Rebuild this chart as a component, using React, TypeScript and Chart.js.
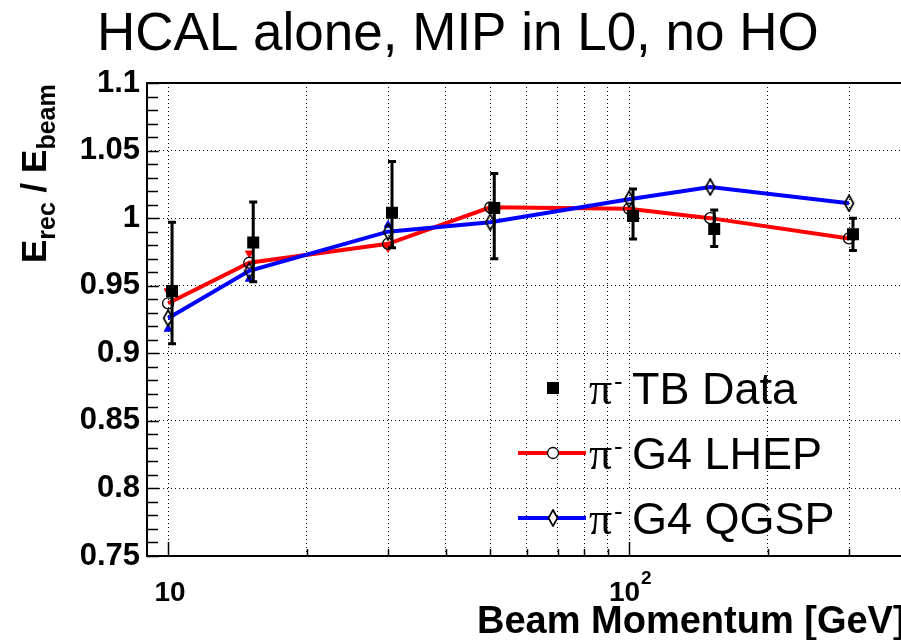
import React, { useEffect, useRef } from "react";
import { Chart, registerables } from "chart.js";

Chart.register(...registerables);

// ---------- data ----------
const simEnergies = [10, 15, 30, 50, 100, 150, 300];
const dataEnergies = [10.2, 15.3, 30.6, 51, 102, 153, 306];
const tbData = [0.946, 0.982, 1.004, 1.0075, 1.0016, 0.992, 0.988];
const tbErrUp = [0.051, 0.03, 0.038, 0.0255, 0.02, 0.014, 0.012];
const tbErrDown = [0.039, 0.029, 0.026, 0.0375, 0.017, 0.013, 0.012];
const lhep = [0.937, 0.967, 0.981, 1.008, 1.007, 1.0, 0.985];
const qgsp = [0.926, 0.961, 0.99, 0.997, 1.014, 1.023, 1.011];
const altEnergies = [10, 15, 30];
const lhepAlt = [0.946, 0.974, 0.978];
const qgspAlt = [0.918, 0.955, 0.995];

const yTickValues = [0.75, 0.8, 0.85, 0.9, 0.95, 1.0, 1.05, 1.1];
const yTickLabels = ["0.75", "0.8", "0.85", "0.9", "0.95", "1", "1.05", "1.1"];
const xGridValues = [10, 20, 30, 40, 50, 60, 70, 80, 90, 100, 200, 300];
const xMajorValues = [10, 100];

const titleText = "HCAL alone, MIP in L0, no HO";
const xTitle = "Beam Momentum [GeV]";
const legendLabels = ["TB Data", "G4 LHEP", "G4 QGSP"];

const CANVAS_W = 920;
const CANVAS_H = 640;

function makeDiamond(fill: string) {
  const c = document.createElement("canvas");
  c.width = 12;
  c.height = 18;
  const g = c.getContext("2d")!;
  g.beginPath();
  g.moveTo(6, 1);
  g.lineTo(10.5, 9);
  g.lineTo(6, 17);
  g.lineTo(1.5, 9);
  g.closePath();
  if (fill) {
    g.fillStyle = fill;
    g.fill();
  }
  g.strokeStyle = "#000";
  g.lineWidth = 1.7;
  g.stroke();
  return c;
}

export default function App() {
  const ref = useRef<HTMLCanvasElement | null>(null);

  useEffect(() => {
    const canvas = ref.current;
    if (!canvas) return;
    const diamond = makeDiamond("");
    const diamondLegend = makeDiamond("#fff");

    const decor = {
      id: "decor",
      beforeDraw(chart: any) {
        const ctx = chart.ctx;
        ctx.save();
        ctx.fillStyle = "#fff";
        ctx.fillRect(0, 0, chart.width, chart.height);
        ctx.restore();
      },
      beforeDatasetDraw(chart: any, args: any) {
        if (args.index !== 0) return;
        const ctx = chart.ctx;
        const xs = chart.scales.x;
        const ys = chart.scales.y;
        ctx.save();
        ctx.strokeStyle = "#000";
        ctx.lineWidth = 3;
        dataEnergies.forEach((e, i) => {
          const px = xs.getPixelForValue(e);
          const top = ys.getPixelForValue(tbData[i] + tbErrUp[i]);
          const bot = ys.getPixelForValue(tbData[i] - tbErrDown[i]);
          ctx.beginPath();
          ctx.moveTo(px, top);
          ctx.lineTo(px, bot);
          ctx.moveTo(px - 4, top);
          ctx.lineTo(px + 4, top);
          ctx.moveTo(px - 4, bot);
          ctx.lineTo(px + 4, bot);
          ctx.stroke();
        });
        ctx.restore();
      },
      afterDatasetsDraw(chart: any) {
        const ctx = chart.ctx;
        const a = chart.chartArea;
        const xs = chart.scales.x;
        const ys = chart.scales.y;
        ctx.save();
        ctx.strokeStyle = "#000";
        ctx.lineWidth = 1.5;
        ctx.beginPath();
        for (let k = 75; k <= 110; k++) {
          const py = Math.round(ys.getPixelForValue(k / 100)) + 0.5;
          const len = k % 5 === 0 ? 12 : 11;
          ctx.moveTo(a.left, py);
          ctx.lineTo(a.left + len, py);
        }
        xGridValues.forEach((v) => {
          const px = Math.round(xs.getPixelForValue(v)) + 0.5;
          const len = xMajorValues.includes(v) ? 14 : 7;
          ctx.moveTo(px, a.bottom);
          ctx.lineTo(px, a.bottom - len);
        });
        ctx.stroke();
        ctx.lineWidth = 2;
        ctx.strokeRect(a.left, a.top, a.right - a.left, a.bottom - a.top);
        ctx.restore();
      },
      afterDraw(chart: any) {
        const ctx = chart.ctx;
        const xs = chart.scales.x;
        ctx.save();
        ctx.fillStyle = "#000";
        ctx.textBaseline = "alphabetic";

        // title
        ctx.font = '53px "Liberation Sans", Arial, sans-serif';
        ctx.textAlign = "left";
        ctx.fillText(titleText, 97, 50);

        // x tick labels
        ctx.font = 'bold 28px "Liberation Sans", Arial, sans-serif';
        ctx.textAlign = "center";
        const p10 = xs.getPixelForValue(10);
        ctx.fillText("10", p10 + 2, 601);
        const p100 = xs.getPixelForValue(100);
        ctx.textAlign = "right";
        ctx.fillText("10", p100 + 11, 601);
        ctx.font = 'bold 19px "Liberation Sans", Arial, sans-serif';
        ctx.textAlign = "left";
        ctx.fillText("2", p100 + 12, 584);

        // x title
        ctx.font = 'bold 38px "Liberation Sans", Arial, sans-serif';
        ctx.textAlign = "left";
        ctx.fillText(xTitle, 477, 633);

        // y title (rotated)
        ctx.save();
        ctx.translate(46, 263);
        ctx.rotate(-Math.PI / 2);
        ctx.textAlign = "left";
        const big = 'bold 35px "Liberation Sans", Arial, sans-serif';
        const small = 'bold 25px "Liberation Sans", Arial, sans-serif';
        let cx = 0;
        const seg = (t: string, f: string, dy: number) => {
          ctx.font = f;
          ctx.fillText(t, cx, dy);
          cx += ctx.measureText(t).width;
        };
        seg("E", big, 0);
        seg("rec", small, 9);
        seg(" / ", big, 0);
        seg("E", big, 0);
        seg("beam", small, 9);
        ctx.restore();

        // legend
        const rows = [388, 453, 518];
        const mx = 553;
        ctx.fillRect(mx - 6, rows[0] - 6, 12, 12);
        ctx.lineWidth = 4;
        ctx.strokeStyle = "#ff0000";
        ctx.beginPath();
        ctx.moveTo(518, rows[1]);
        ctx.lineTo(586, rows[1]);
        ctx.stroke();
        ctx.fillStyle = "#fff";
        ctx.strokeStyle = "#000";
        ctx.lineWidth = 1.3;
        ctx.beginPath();
        ctx.arc(mx, rows[1], 5.5, 0, Math.PI * 2);
        ctx.fill();
        ctx.stroke();
        ctx.lineWidth = 4;
        ctx.strokeStyle = "#0000ff";
        ctx.beginPath();
        ctx.moveTo(518, rows[2]);
        ctx.lineTo(586, rows[2]);
        ctx.stroke();
        ctx.drawImage(diamondLegend, mx - 6, rows[2] - 9);

        ctx.fillStyle = "#000";
        rows.forEach((ry, i) => {
          const base = ry + 16;
          ctx.textAlign = "left";
          ctx.font = '46px "Liberation Serif", "DejaVu Serif", serif';
          ctx.fillText("π", 589, base);
          ctx.font = '26px "Liberation Sans", Arial, sans-serif';
          ctx.fillText("-", 614, base - 14);
          ctx.font = '45px "Liberation Sans", Arial, sans-serif';
          ctx.fillText(legendLabels[i], 632, base);
        });
        ctx.restore();
      },
    };

    const chart = new Chart(canvas, {
      type: "line",
      data: {
        datasets: [
          {
            label: "π- TB Data",
            data: dataEnergies.map((x, i) => ({ x, y: tbData[i] })),
            showLine: false,
            pointStyle: "rect",
            pointRadius: 8.5,
            pointBackgroundColor: "#000",
            pointBorderColor: "#000",
            pointBorderWidth: 0,
            borderColor: "#000",
          },
          {
            label: "π- G4 QGSP",
            data: simEnergies.map((x, i) => ({ x, y: qgsp[i] })),
            borderColor: "#0000ff",
            borderWidth: 4,
            tension: 0,
            pointStyle: diamond as any,
            pointRadius: 6,
            pointBorderColor: "#000",
            pointBackgroundColor: "rgba(0,0,0,0)",
          },
          {
            label: "π- G4 LHEP",
            data: simEnergies.map((x, i) => ({ x, y: lhep[i] })),
            borderColor: "#ff0000",
            borderWidth: 4,
            tension: 0,
            pointStyle: "circle",
            pointRadius: 5.5,
            pointBorderWidth: 1.3,
            pointBorderColor: "#000",
            pointBackgroundColor: "rgba(0,0,0,0)",
          },
          {
            label: "QGSP (alt)",
            data: altEnergies.map((x, i) => ({ x, y: qgspAlt[i] })),
            showLine: false,
            pointStyle: "triangle",
            pointRadius: 4.5,
            pointBackgroundColor: "#0000ff",
            pointBorderColor: "#0000ff",
            borderColor: "#0000ff",
          },
          {
            label: "LHEP (alt)",
            data: altEnergies.map((x, i) => ({ x, y: lhepAlt[i] })),
            showLine: false,
            pointStyle: "triangle",
            pointRotation: 180,
            pointRadius: 4.5,
            pointBackgroundColor: "#ff0000",
            pointBorderColor: "#ff0000",
            borderColor: "#ff0000",
          },
        ],
      },
      options: {
        responsive: false,
        animation: false,
        devicePixelRatio: 1,
        layout: { padding: { left: 0, top: 83, right: CANVAS_W - 906.6, bottom: 0 } },
        plugins: {
          legend: { display: false },
          tooltip: { enabled: false },
          title: { display: false },
        },
        scales: {
          x: {
            type: "logarithmic",
            min: 9,
            max: 400,
            afterFit: (s: any) => {
              s.height = 84;
            },
            afterBuildTicks: (s: any) => {
              s.ticks = xGridValues.map((v) => ({ value: v }));
            },
            ticks: { display: false },
            grid: { color: "#000", lineWidth: 1, drawTicks: false },
            border: { display: false, dash: [1, 3] },
          },
          y: {
            type: "linear",
            min: 0.75,
            max: 1.1,
            afterFit: (s: any) => {
              s.width = 147;
            },
            afterBuildTicks: (s: any) => {
              s.ticks = yTickValues.map((v) => ({ value: v }));
            },
            ticks: {
              color: "#000",
              padding: 7,
              font: { family: '"Liberation Sans", Arial, sans-serif', weight: "bold", size: 31 },
              callback: (_v: any, i: number) => yTickLabels[i],
            },
            grid: { color: "#000", lineWidth: 1, drawTicks: false },
            border: { display: false, dash: [1, 3] },
          },
        },
      } as any,
      plugins: [decor],
    });

    return () => chart.destroy();
  }, []);

  return (
    <div
      style={{
        position: "absolute",
        left: 0,
        top: 0,
        width: 901,
        height: 640,
        overflow: "hidden",
        background: "#fff",
      }}
    >
      <canvas ref={ref} width={CANVAS_W} height={CANVAS_H} style={{ display: "block" }} />
    </div>
  );
}
